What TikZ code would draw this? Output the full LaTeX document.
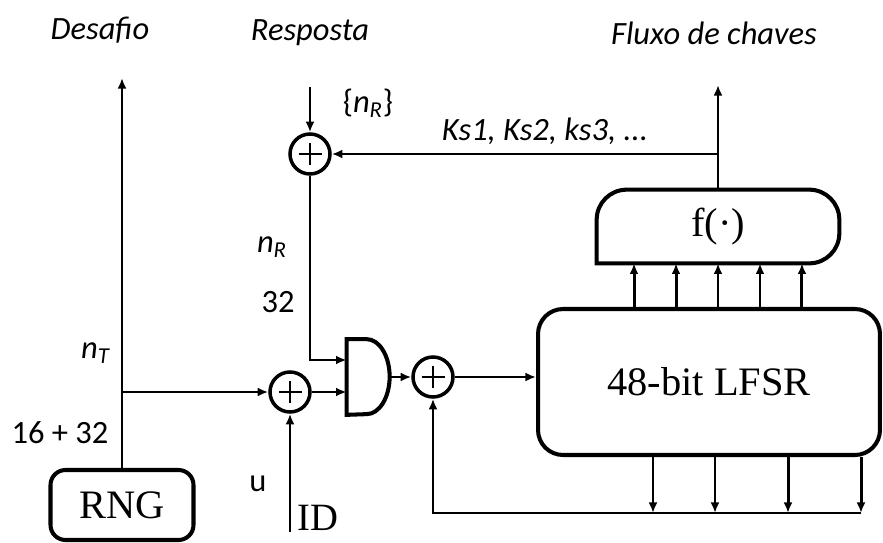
\documentclass[tikz,border=0pt]{standalone}
\usepackage{fontspec}
\setmainfont{Liberation Serif}
\setsansfont{Carlito}
\usetikzlibrary{arrows.meta}

\begin{document}
\begin{tikzpicture}[x=0.02cm,y=0.02cm,>={Latex[length=6pt,width=5pt]},
 wire/.style={line width=1.7pt},
 shell/.style={draw,line width=2.3pt},
 body/.style={shell,rounded corners=0.5cm,font=\fontsize{23}{27}\selectfont},
 xor/.style={circle,draw,line width=2pt,minimum size=0.8cm,inner sep=0pt,
  path picture={\draw[line width=1.2pt]
   ([xshift=-0.23cm]path picture bounding box.center) -- ([xshift=0.23cm]path picture bounding box.center)
   ([yshift=-0.23cm]path picture bounding box.center) -- ([yshift=0.23cm]path picture bounding box.center);}},
 lbl/.style={font=\sffamily\fontsize{18.5}{22}\selectfont},
 ttl/.style={font=\sffamily\itshape\fontsize{18.5}{22}\selectfont}]
 \useasboundingbox (0,0) rectangle (883,542);
 \node[body,rounded corners=0.3cm,minimum width=2.86cm,minimum height=1.4cm] (rng) at (122,37) {RNG};
 \node[body,minimum width=6.84cm,minimum height=2.92cm] (lfsr) at (709,160) {48-bit LFSR};
 \node[minimum width=4.84cm,minimum height=1.46cm,inner sep=0pt,font=\fontsize{23}{27}\selectfont] (f) at (718,315.5) {f(·)};
 \draw[shell] (f.south west) [rounded corners=0.6cm] -- (f.north west) -- (f.north east) -- (f.south east) [sharp corners] -- cycle;
 \node[xor] (xa) at (290,150) {};
 \node[xor] (xr) at (310,388) {};
 \node[xor] (xb) at (433,165) {};
 \node[minimum width=0.86cm,minimum height=1.5cm,inner sep=0pt] (gate) at (368.5,165) {};
 \draw[shell] (gate.south west) -- (gate.north west) -- ++(0.4cm,0)
  arc[start angle=90,end angle=-90,x radius=0.46cm,y radius=0.75cm] -- cycle;
 \coordinate (chal) at (122,464);
 \coordinate (nrin) at (310,455);
 \coordinate (keyout) at (718,457);
 \coordinate (idin) at (290,10);
 \foreach \tx [count=\i] in {653,715,788,861} \coordinate (tap\i) at (\tx,29);
 \foreach \dx [count=\i] in {-1.68cm,-0.84cm,0cm,0.84cm,1.68cm} \coordinate (in\i) at ([xshift=\dx]f.south);
 \draw[wire,->] (rng.north) -- (chal);
 \draw[wire,->] (rng.north |- xa) -- (xa);
 \draw[wire,->] (idin) -- (xa);
 \draw[wire,->] (xa) -- (xa -| gate.west);
 \draw[wire,->] (nrin) -- (xr);
 \draw[wire,->] (xr) |- ([yshift=0.34cm]gate.west);
 \draw[wire,->] (gate.east) -- (xb);
 \draw[wire,->] (xb) -- (xb -| lfsr.west);
 \foreach \i in {1,...,4} \draw[wire,->] (tap\i |- lfsr.south) -- (tap\i);
 \draw[wire,->] (tap4) -| (xb);
 \foreach \i in {1,...,5} \draw[wire,->] (in\i |- lfsr.north) -- (in\i);
 \draw[wire,->] (f.north) -- (keyout);
 \draw[wire,->] (keyout |- xr) -- (xr);
 \node[ttl] (desafio) at (100,512) {Desafio};
 \node[ttl] (resposta) at (310,509) {Resposta};
 \node[ttl] (fluxo) at (714,509) {Fluxo de chaves};
 \node[ttl] (kslabel) at (545,411) {Ks1, Ks2, ks3, ...};
 \node[lbl] (nrset) at (368,439) {\{\textit{n}\textsubscript{\textit{R}}\}};
 \node[lbl] (nrlabel) at (272,295) {\textit{n}\textsubscript{\textit{R}}};
 \node[lbl] (nrbits) at (278,240) {32};
 \node[lbl] (ntlabel) at (96,189) {\textit{n}\textsubscript{\textit{T}}};
 \node[lbl] (ntbits) at (60,109) {16 + 32};
 \node[lbl] (ulabel) at (258,58) {u};
 \node[font=\fontsize{22}{26}\selectfont] (idlabel) at (318,24) {ID};
\end{tikzpicture}
\end{document}
